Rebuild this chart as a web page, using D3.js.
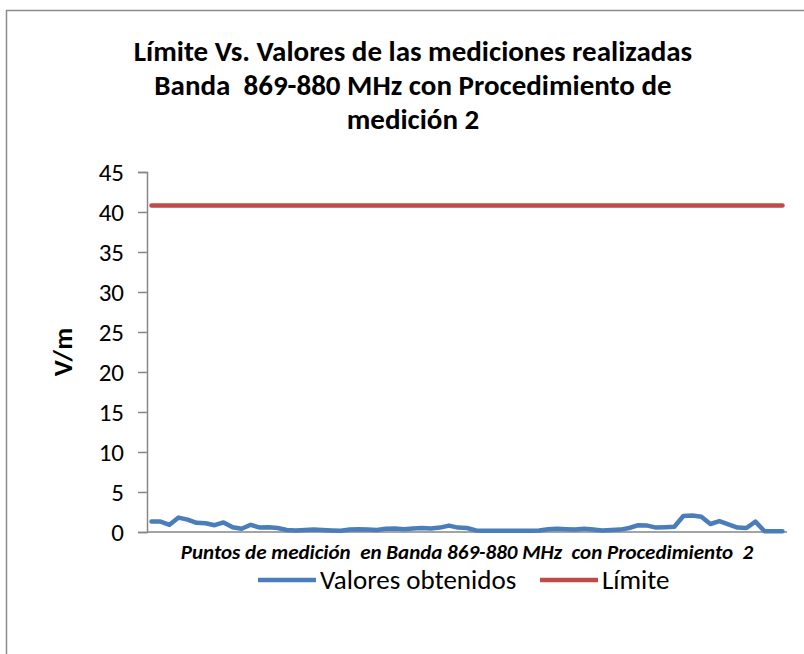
<!DOCTYPE html>
<html>
<head>
<meta charset="utf-8">
<script src="https://cdn.jsdelivr.net/npm/d3@7"></script>
<style>
  html, body { margin: 0; padding: 0; background: #fff; }
  svg { display: block; }
  text { white-space: pre; }
</style>
</head>
<body>
<svg id="chart" width="804" height="654"></svg>
<script>
// Measured field strength (V/m) at each point, band 869-880 MHz, procedure 2
const valores = [
  1.3, 1.3, 0.9, 1.8, 1.55, 1.15, 1.1, 0.85, 1.2, 0.6,
  0.4, 0.9, 0.55, 0.6, 0.5, 0.25, 0.2, 0.25, 0.3, 0.25,
  0.2, 0.15, 0.3, 0.35, 0.3, 0.25, 0.4, 0.45, 0.35, 0.45,
  0.5, 0.45, 0.55, 0.8, 0.55, 0.5, 0.2, 0.15, 0.15, 0.15,
  0.15, 0.15, 0.15, 0.2, 0.35, 0.4, 0.35, 0.3, 0.4, 0.3,
  0.2, 0.25, 0.3, 0.5, 0.85, 0.8, 0.55, 0.6, 0.65, 2.0,
  2.05, 1.9, 1.0, 1.35, 0.95, 0.55, 0.5, 1.3, 0.1, 0.1,
  0.1
];
// Regulatory limit for the band (V/m)
const limite = valores.map(() => 40.8);
const puntos = valores.map((_, i) => i + 1);
const yTicks = [0, 5, 10, 15, 20, 25, 30, 35, 40, 45];
const titulo = [
  "Límite Vs. Valores de las mediciones realizadas",
  "Banda  869-880 MHz con Procedimiento de",
  "medición 2"
];
const series = [
  { name: "Valores obtenidos", values: valores, color: "#4a7ebb" },
  { name: "Límite", values: limite, color: "#be4b48" }
];

const svg = d3.select("#chart");
const font = "Carlito, Calibri, 'Open Sans', 'DejaVu Sans', sans-serif";

// Outer chart frame
svg.append("rect")
  .attr("x", 6.5).attr("y", 10.5)
  .attr("width", 820).attr("height", 680)
  .attr("fill", "#fff").attr("stroke", "#8c8c8c").attr("stroke-width", 1.5);

const plot = { left: 147, right: 787, top: 172, bottom: 532 };

const x = d3.scaleBand().domain(puntos).range([plot.left, plot.right]);
const y = d3.scaleLinear().domain([0, 45]).range([plot.bottom, plot.top]);

// Title
svg.append("text")
  .attr("text-anchor", "middle")
  .attr("font-family", font).attr("font-weight", "bold").attr("font-size", 29)
  .attr("fill", "#000")
  .selectAll("tspan").data(titulo).join("tspan")
  .attr("x", 413).attr("y", (d, i) => 61 + i * 34)
  .text(d => d);

// Y axis
const yAxis = svg.append("g")
  .attr("transform", `translate(${plot.left},0)`)
  .call(d3.axisLeft(y).tickValues(yTicks).tickSize(9).tickPadding(14));
yAxis.select(".domain").attr("stroke", "#868686").attr("stroke-width", 1.5);
yAxis.selectAll(".tick line").attr("stroke", "#868686").attr("stroke-width", 1.5);
yAxis.selectAll(".tick text")
  .attr("font-family", font).attr("font-size", 25).attr("fill", "#000");

// X axis (category axis, no labels)
svg.append("line")
  .attr("x1", plot.left).attr("x2", plot.right)
  .attr("y1", plot.bottom).attr("y2", plot.bottom)
  .attr("stroke", "#868686").attr("stroke-width", 1.5);

// Axis titles
svg.append("text")
  .attr("transform", `translate(72,${(plot.top + plot.bottom) / 2}) rotate(-90)`)
  .attr("text-anchor", "middle")
  .attr("font-family", font).attr("font-weight", "bold").attr("font-size", 27)
  .text("V/m");

svg.append("text")
  .attr("x", 467).attr("y", 559)
  .attr("text-anchor", "middle")
  .attr("font-family", font).attr("font-weight", "bold").attr("font-style", "italic")
  .attr("font-size", 21)
  .text("Puntos de medición  en Banda 869-880 MHz  con Procedimiento  2");

// Series lines
const line = d3.line()
  .x((d, i) => x(puntos[i]) + x.bandwidth() / 2)
  .y(d => y(d));

svg.selectAll("path.serie").data(series).join("path")
  .attr("class", "serie")
  .attr("d", d => line(d.values))
  .attr("fill", "none")
  .attr("stroke", d => d.color)
  .attr("stroke-width", 4.5)
  .attr("stroke-linejoin", "round")
  .attr("stroke-linecap", "round");

// Legend
const legendX = [258, 540];
const legend = svg.selectAll("g.leg").data(series).join("g")
  .attr("class", "leg")
  .attr("transform", (d, i) => `translate(${legendX[i]},580)`);
legend.append("line")
  .attr("x1", 0).attr("x2", 58).attr("y1", 0).attr("y2", 0)
  .attr("stroke", d => d.color).attr("stroke-width", 4.5);
legend.append("text")
  .attr("x", 62).attr("y", 9)
  .attr("font-family", font).attr("font-size", 27)
  .text(d => d.name);
</script>
</body>
</html>
